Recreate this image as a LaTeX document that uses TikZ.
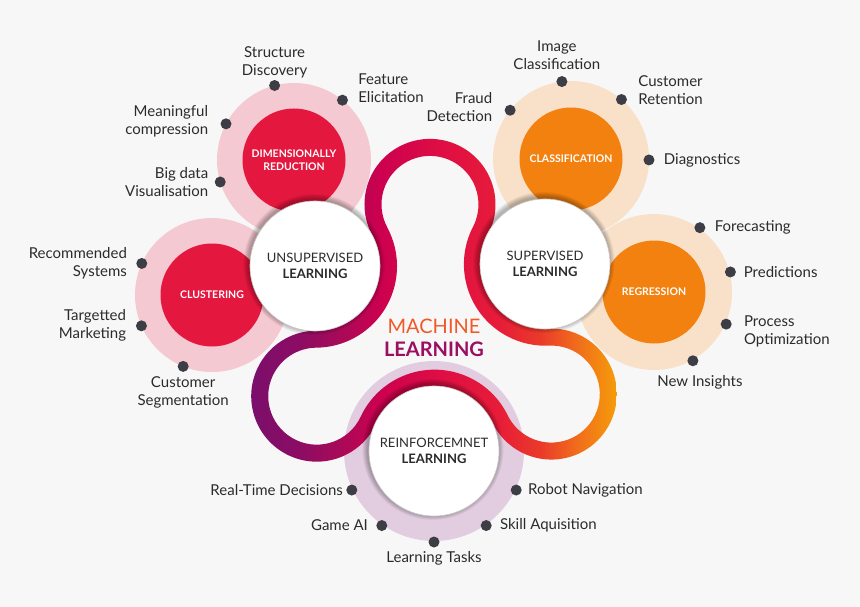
\documentclass[tikz,border=0pt]{standalone}
\usepackage{fontspec}
\setmainfont{Lato}
\usetikzlibrary{calc,positioning}

\definecolor{pagebg}{HTML}{F7F7F7}
\definecolor{blush}{HTML}{F5C9D1}
\definecolor{crimson}{HTML}{E4173E}
\definecolor{peach}{HTML}{F9E1C9}
\definecolor{tangerine}{HTML}{F3810F}
\definecolor{lilac}{HTML}{E2CDE0}
\definecolor{inkgray}{HTML}{2B2B2B}
\definecolor{dotgray}{HTML}{3D3D45}
\definecolor{mlorange}{HTML}{F05A28}
\definecolor{mlplum}{HTML}{9B0E62}
% ribbon colours, left to right
\definecolor{rb1}{HTML}{7A0F6C}
\definecolor{rb2}{HTML}{8D0C63}
\definecolor{rb3}{HTML}{A80A58}
\definecolor{rb4}{HTML}{CC004F}
\definecolor{rb5}{HTML}{DE0E44}
\definecolor{rb6}{HTML}{E71D38}
\definecolor{rb7}{HTML}{EA3A2A}
\definecolor{rb8}{HTML}{F06B1C}
\definecolor{rb9}{HTML}{F59C0A}
\pgfdeclarehorizontalshading{ribbon}{100bp}{color(0bp)=(rb1); color(25bp)=(rb1);
  color(31.7bp)=(rb2); color(37.2bp)=(rb3); color(42.7bp)=(rb4); color(50.9bp)=(rb5);
  color(59.1bp)=(rb6); color(64.6bp)=(rb7); color(69.4bp)=(rb8); color(75bp)=(rb9);
  color(100bp)=(rb9)}

% closed ribbon loop: #1 lobe radius, #2 radius round the learning wheels
\newcommand\ribbonloop[2]{($(lT)+(208.2:#1)$)
  arc[start angle=208.2,end angle=-27.4,radius=#1]
  arc[start angle=152.6,end angle=272.6,radius=#2]
  arc[start angle=92.6,end angle=-153.95,radius=#1]
  arc[start angle=26.05,end angle=154.97,radius=#2]
  arc[start angle=-25.03,end angle=-269.47,radius=#1]
  arc[start angle=-89.47,end angle=28.2,radius=#2] -- cycle}

\begin{document}
\begin{tikzpicture}[x=1pt,y=1pt,
  dot/.style={circle,fill=dotgray,inner sep=0,minimum size=11pt},
  lbl/.style={font=\fontsize{15}{18}\selectfont,text=inkgray,inner sep=0},
  hub/.style={circle,inner sep=0,minimum size=103pt,text=white,align=center,
    font=\fontsize{10.5}{13}\selectfont\bfseries},
  wheel/.style={circle,fill=white,draw=black!22,line width=.6pt,minimum size=130pt,
    inner sep=0,align=center,text=inkgray,font=\fontsize{13}{15.5}\selectfont}]

\useasboundingbox (0,0) rectangle (860,-607);
\fill[pagebg] (0,0) rectangle (860,-607);

% centres
\coordinate (cU) at (315,-266);
\coordinate (cS) at (545,-264);
\coordinate (cR) at (434,-451);
\coordinate (cD) at (294,-160);
\coordinate (cC) at (212,-295);
\coordinate (cK) at (571,-159);
\coordinate (cG) at (654,-292);
\coordinate (lT) at (430,-204.4);
\coordinate (lR) at (550.8,-393.9);
\coordinate (lL) at (316.2,-396);

% pale rings
\fill[blush] (cD) circle (77);
\fill[blush] (cC) circle (77);
\fill[peach] (cK) circle (78);
\fill[peach] (cG) circle (78);
\fill[lilac] (cR) circle (90);

% satellites
\node[hub,fill=crimson] (dimred) at (cD) {DIMENSIONALLY\\REDUCTION};
\node[hub,fill=crimson] (clust) at (cC) {CLUSTERING};
\node[hub,fill=tangerine] (classif) at (cK) {CLASSIFICATION};
\node[hub,fill=tangerine] (regr) at (cG) {REGRESSION};

% ribbon
\begin{scope}[even odd rule]
  \clip \ribbonloop{65.5}{64.5} \ribbonloop{48.5}{81.5};
  \shade[shading=ribbon] (250.7,-120) rectangle (616.3,-480);
\end{scope}

% soft shadows under the wheels
\foreach \w in {cU,cS,cR}
  \foreach \k in {1,...,6}
    \fill[black,opacity=.05] ($(\w)+(-1,1.5)$) circle (65+\k*0.9);

\node[wheel] (unsup) at (cU) {UNSUPERVISED\\\textbf{LEARNING}};
\node[wheel] (sup) at (cS) {SUPERVISED\\\textbf{LEARNING}};
\node[wheel] (reinf) at (cR) {REINFORCEMNET\\\textbf{LEARNING}};

\node[font=\fontsize{20}{23}\selectfont,align=center,inner sep=0] (ml) at (434,-338)
  {\textcolor{mlorange}{MACHINE}\\\textcolor{mlplum}{\bfseries LEARNING}};

% dimensionally reduction
\node[dot] (sd) at ($(cD)+(104.6:77)$) {};
\node[lbl,align=center,above=2pt of sd] {Structure\\Discovery};
\node[dot] (fe) at ($(cD)+(51:77)$) {};
\node[lbl,align=left,right=10pt of fe,yshift=12pt] {Feature\\Elicitation};
\node[dot] (mc) at ($(cD)+(152:77)$) {};
\node[lbl,align=right,left=12pt of mc,yshift=3pt] {Meaningful\\compression};
\node[dot] (bd) at ($(cD)+(196.6:77)$) {};
\node[lbl,align=right,left=6pt of bd] {Big data\\Visualisation};

% clustering
\node[dot] (rs) at ($(cC)+(155.8:77)$) {};
\node[lbl,align=right,left=9pt of rs] {Recommended\\Systems};
\node[dot] (tm) at ($(cC)+(203.6:77)$) {};
\node[lbl,align=right,left=9.5pt of tm] {Targetted\\Marketing};
\node[dot] (cs) at ($(cC)+(248:77)$) {};
\node[lbl,align=center,below=4pt of cs] {Customer\\Segmentation};

% classification
\node[dot] (ic) at ($(cK)+(96.7:78)$) {};
\node[lbl,align=center,above=6pt of ic,xshift=-5pt] {Image\\Classification};
\node[dot] (cr) at ($(cK)+(49.7:78)$) {};
\node[lbl,align=left,right=11pt of cr,yshift=9pt] {Customer\\Retention};
\node[dot] (fd) at ($(cK)+(141.3:78)$) {};
\node[lbl,align=right,left=12pt of fd,yshift=3pt] {Fraud\\Detection};
\node[dot] (dg) at ($(cK)+(-0.7:78)$) {};
\node[lbl,right=9pt of dg] {Diagnostics};

% regression
\node[dot] (fc) at ($(cG)+(54.5:79)$) {};
\node[lbl,right=9pt of fc] {Forecasting};
\node[dot] (pr) at ($(cG)+(14.7:79)$) {};
\node[lbl,right=7.5pt of pr] {Predictions};
\node[dot] (po) at ($(cG)+(-24:79)$) {};
\node[lbl,align=left,right=12pt of po,yshift=-7pt] {Process\\Optimization};
\node[dot] (ni) at ($(cG)+(-60.5:79)$) {};
\node[lbl,below=9pt of ni,xshift=7pt] {New Insights};

% reinforcement
\node[dot] (rt) at ($(cR)+(205.4:91)$) {};
\node[lbl,left=3pt of rt] {Real-Time Decisions};
\node[dot] (ga) at ($(cR)+(235:91)$) {};
\node[lbl,left=8pt of ga] {Game AI};
\node[dot] (lt) at ($(cR)+(270:91)$) {};
\node[lbl,below=4pt of lt] {Learning Tasks};
\node[dot] (sa) at ($(cR)+(305:91)$) {};
\node[lbl,right=8pt of sa] {Skill Aquisition};
\node[dot] (rn) at ($(cR)+(334.6:91)$) {};
\node[lbl,right=6pt of rn] {Robot Navigation};
\end{tikzpicture}
\end{document}
